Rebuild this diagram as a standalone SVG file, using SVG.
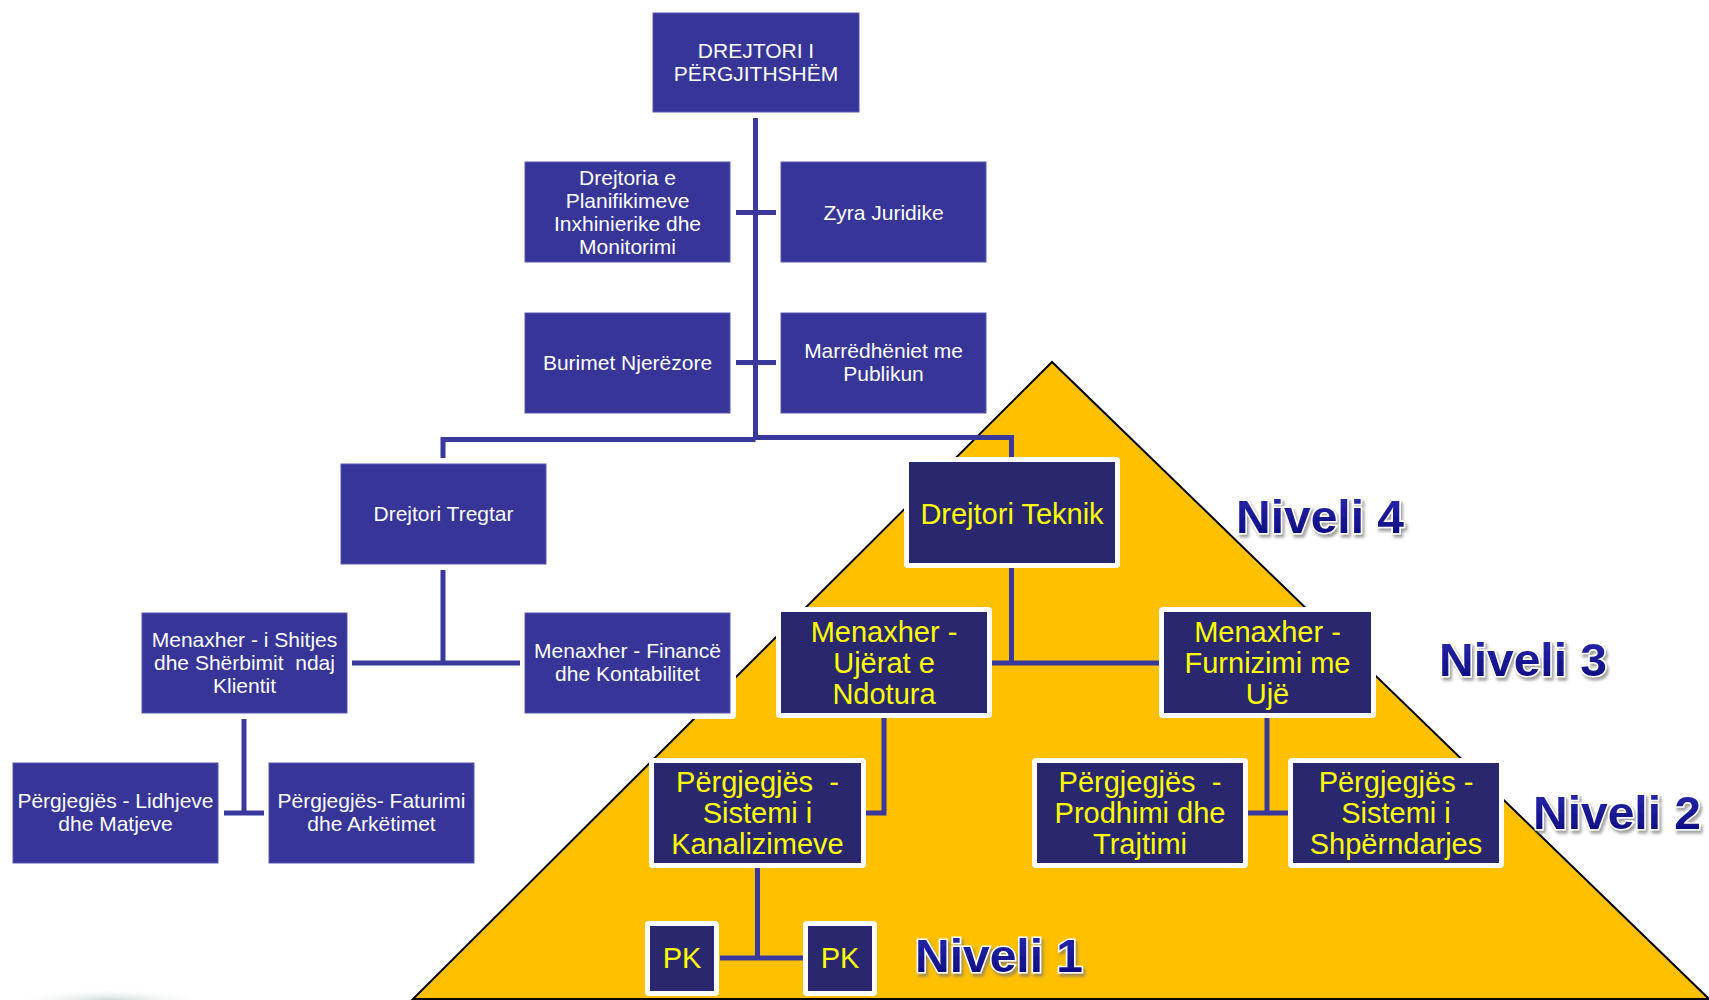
<svg xmlns="http://www.w3.org/2000/svg" width="1709" height="1000" viewBox="0 0 1709 1000">
<defs>
<style>
.bx{fill:#373598;stroke:#5957b3;stroke-width:1}
.wb{fill:#ffffff}
.nb{fill:#29286f}
.tw{font-family:"Liberation Sans",Arial,sans-serif;font-size:21px;fill:#ffffff;text-anchor:middle}
.ty{font-family:"Liberation Sans",Arial,sans-serif;font-size:29px;fill:#ffff00;text-anchor:middle}
.ln{stroke:#3a389b;stroke-width:5;fill:none}
.nv{font-family:"Liberation Sans",Arial,sans-serif;font-weight:bold;font-size:46px;fill:url(#ng);stroke:#ffffff;stroke-width:3;paint-order:stroke;filter:url(#sh)}
</style>
<filter id="sh" x="-10%" y="-20%" width="130%" height="150%">
<feDropShadow dx="2" dy="3" stdDeviation="1.5" flood-color="#777777" flood-opacity="0.7"/>
</filter>
<linearGradient id="ng" x1="0" y1="0" x2="0" y2="1">
<stop offset="0" stop-color="#2b2bb0"/>
<stop offset="1" stop-color="#08087a"/>
</linearGradient>
<radialGradient id="blob" cx="0.5" cy="0.6" r="0.5">
<stop offset="0" stop-color="#b8c4c4" stop-opacity="0.7"/>
<stop offset="1" stop-color="#ffffff" stop-opacity="0"/>
</radialGradient>
</defs>
<rect width="1709" height="1000" fill="#ffffff"/>
<ellipse cx="110" cy="998" rx="100" ry="12" fill="url(#blob)"/>
<polygon points="1052,362 413,999 1709,999" fill="#ffc000" stroke="#000000" stroke-width="2"/>

<g id="connectors">
<line class="ln" x1="755.5" y1="118" x2="755.5" y2="440"/>
<line class="ln" x1="736" y1="212.5" x2="776" y2="212.5"/>
<line class="ln" x1="736" y1="362.5" x2="776" y2="362.5"/>
<polyline class="ln" points="443,458 443,439.5 755.5,439.5"/>
<polyline class="ln" points="755.5,437.5 1011.5,437.5 1011.5,458"/>
<line class="ln" x1="443" y1="570" x2="443" y2="663"/>
<line class="ln" x1="352" y1="663" x2="520" y2="663"/>
<line class="ln" x1="244" y1="719" x2="244" y2="813"/>
<line class="ln" x1="224" y1="813" x2="264" y2="813"/>
<line class="ln" x1="1011.5" y1="568" x2="1011.5" y2="663"/>
<line class="ln" x1="991" y1="663" x2="1160" y2="663"/>
<polyline class="ln" points="884,718 884,813 866,813"/>
<line class="ln" x1="1267" y1="718" x2="1267" y2="813"/>
<line class="ln" x1="1248" y1="813" x2="1288" y2="813"/>
<line class="ln" x1="757.5" y1="868" x2="757.5" y2="958"/>
<line class="ln" x1="720" y1="958" x2="804" y2="958"/>
</g>

<g id="n-drejtori-pergjithshem">
<rect class="bx" x="653" y="13" width="206" height="99"/>
<text class="tw" font-size="20" x="756" y="58">DREJTORI I</text>
<text class="tw" font-size="20" x="756" y="81">PËRGJITHSHËM</text>
</g>
<g id="n-planifikimeve">
<rect class="bx" x="525" y="162" width="205" height="100"/>
<text class="tw" x="627.5" y="185">Drejtoria e</text>
<text class="tw" x="627.5" y="208">Planifikimeve</text>
<text class="tw" x="627.5" y="231">Inxhinierike dhe</text>
<text class="tw" x="627.5" y="254">Monitorimi</text>
</g>
<g id="n-zyra-juridike">
<rect class="bx" x="781" y="162" width="205" height="100"/>
<text class="tw" x="883.5" y="219.5">Zyra Juridike</text>
</g>
<g id="n-burimet">
<rect class="bx" x="525" y="313" width="205" height="100"/>
<text class="tw" x="627.5" y="370">Burimet Njerëzore</text>
</g>
<g id="n-marredheniet">
<rect class="bx" x="781" y="313" width="205" height="100"/>
<text class="tw" x="883.5" y="358">Marrëdhëniet me</text>
<text class="tw" x="883.5" y="381">Publikun</text>
</g>
<g id="n-tregtar">
<rect class="bx" x="341" y="464" width="205" height="100"/>
<text class="tw" x="443.5" y="521">Drejtori Tregtar</text>
</g>
<g id="n-shitjes">
<rect class="bx" x="142" y="613" width="205" height="100"/>
<text class="tw" x="244.5" y="647">Menaxher - i Shitjes</text>
<text class="tw" x="244.5" y="670" xml:space="preserve">dhe Shërbimit  ndaj</text>
<text class="tw" x="244.5" y="693">Klientit</text>
</g>
<g id="n-finance">
<rect class="wb" x="520" y="608" width="216" height="111" rx="4"/>
<rect class="bx" x="525" y="613" width="205" height="100"/>
<text class="tw" x="627.5" y="658">Menaxher - Financë</text>
<text class="tw" x="627.5" y="681">dhe Kontabilitet</text>
</g>
<g id="n-lidhjeve">
<rect class="bx" x="13" y="763" width="205" height="100"/>
<text class="tw" x="115.5" y="808">Përgjegjës - Lidhjeve</text>
<text class="tw" x="115.5" y="831">dhe Matjeve</text>
</g>
<g id="n-faturimi">
<rect class="bx" x="269" y="763" width="205" height="100"/>
<text class="tw" x="371.5" y="808">Përgjegjës- Faturimi</text>
<text class="tw" x="371.5" y="831">dhe Arkëtimet</text>
</g>

<g id="n-teknik">
<rect class="wb" x="904" y="457" width="216" height="111" rx="4"/>
<rect class="nb" x="909" y="462" width="206" height="101"/>
<text class="ty" x="1012" y="524">Drejtori Teknik</text>
</g>
<g id="n-ujerat">
<rect class="wb" x="776" y="607" width="216" height="111" rx="4"/>
<rect class="nb" x="781" y="612" width="206" height="101"/>
<text class="ty" x="884" y="642">Menaxher -</text>
<text class="ty" x="884" y="673">Ujërat e</text>
<text class="ty" x="884" y="704">Ndotura</text>
</g>
<g id="n-furnizimi">
<rect class="wb" x="1159" y="607" width="217" height="111" rx="4"/>
<rect class="nb" x="1164" y="612" width="207" height="101"/>
<text class="ty" x="1267.5" y="642">Menaxher -</text>
<text class="ty" x="1267.5" y="673">Furnizimi me</text>
<text class="ty" x="1267.5" y="704">Ujë</text>
</g>
<g id="n-kanalizimeve">
<rect class="wb" x="649" y="758" width="217" height="110" rx="4"/>
<rect class="nb" x="654" y="763" width="207" height="100"/>
<text class="ty" x="757.5" y="792" xml:space="preserve">Përgjegjës  -</text>
<text class="ty" x="757.5" y="823">Sistemi i</text>
<text class="ty" x="757.5" y="854">Kanalizimeve</text>
</g>
<g id="n-prodhimi">
<rect class="wb" x="1032" y="758" width="216" height="110" rx="4"/>
<rect class="nb" x="1037" y="763" width="206" height="100"/>
<text class="ty" x="1140" y="792" xml:space="preserve">Përgjegjës  -</text>
<text class="ty" x="1140" y="823">Prodhimi dhe</text>
<text class="ty" x="1140" y="854">Trajtimi</text>
</g>
<g id="n-shperndarjes">
<rect class="wb" x="1288" y="758" width="216" height="110" rx="4"/>
<rect class="nb" x="1293" y="763" width="206" height="100"/>
<text class="ty" x="1396" y="792">Përgjegjës -</text>
<text class="ty" x="1396" y="823">Sistemi i</text>
<text class="ty" x="1396" y="854">Shpërndarjes</text>
</g>
<g id="n-pk1">
<rect class="wb" x="645" y="921" width="74" height="75" rx="4"/>
<rect class="nb" x="650" y="926" width="64" height="65"/>
<text class="ty" font-size="27" x="682" y="968">PK</text>
</g>
<g id="n-pk2">
<rect class="wb" x="803" y="921" width="74" height="75" rx="4"/>
<rect class="nb" x="808" y="926" width="64" height="65"/>
<text class="ty" font-size="27" x="840" y="968">PK</text>
</g>

<g id="levels">
<text class="nv" x="1236" y="533" textLength="168" lengthAdjust="spacingAndGlyphs">Niveli 4</text>
<text class="nv" x="1439" y="676" textLength="168" lengthAdjust="spacingAndGlyphs">Niveli 3</text>
<text class="nv" x="1533" y="829" textLength="168" lengthAdjust="spacingAndGlyphs">Niveli 2</text>
<text class="nv" x="915" y="972" textLength="168" lengthAdjust="spacingAndGlyphs">Niveli 1</text>
</g>
</svg>
